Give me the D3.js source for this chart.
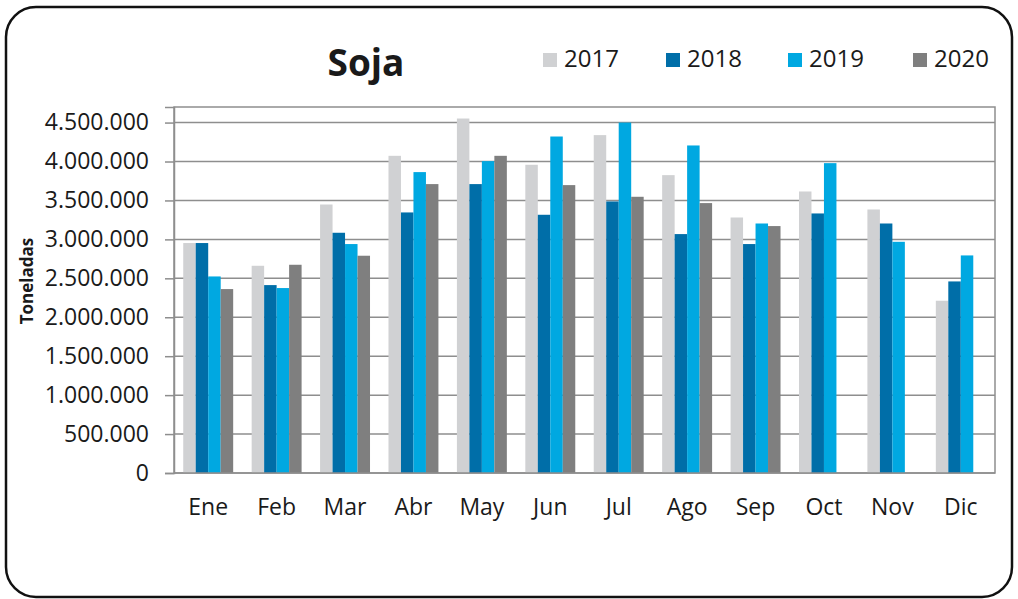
<!DOCTYPE html>
<html>
<head>
<meta charset="utf-8">
<script src="https://cdn.jsdelivr.net/npm/d3@7"></script>
<style>
  body { margin: 0; background: #fff; }
  text { font-family: "Open Sans", sans-serif; fill: #1a1a1a; }
</style>
</head>
<body>
<div id="chart"></div>
<script>
// data (toneladas)
const months = ['Ene', 'Feb', 'Mar', 'Abr', 'May', 'Jun', 'Jul', 'Ago', 'Sep', 'Oct', 'Nov', 'Dic'];
const years = ['2017', '2018', '2019', '2020'];
const v2017 = [2953000, 2661000, 3448000, 4073000, 4552000, 3958000, 4339000, 3825000, 3281000, 3615000, 3384000, 2212000];
const v2018 = [2953000, 2413000, 3085000, 3346000, 3710000, 3316000, 3487000, 3068000, 2940000, 3333000, 3204000, 2460000];
const v2019 = [2524000, 2375000, 2940000, 3864000, 4005000, 4321000, 4500000, 4206000, 3204000, 3979000, 2969000, 2794000];
const v2020 = [2362000, 2674000, 2790000, 3710000, 4073000, 3697000, 3547000, 3466000, 3171000, null, null, null];
const yTicks = [0, 500000, 1000000, 1500000, 2000000, 2500000, 3000000, 3500000, 4000000, 4500000];
const colors = ['#d0d1d3', '#006ea8', '#00a8e1', '#7f7f7f'];

const series = [v2017, v2018, v2019, v2020];

const W = 1018, H = 599;
const plot = { left: 174, right: 995, top: 107, bottom: 473 };

const svg = d3.select('#chart').append('svg')
    .attr('width', W)
    .attr('height', H);

// outer frame
svg.append('rect')
    .attr('x', 6).attr('y', 7)
    .attr('width', 1006).attr('height', 590)
    .attr('rx', 30).attr('ry', 30)
    .attr('fill', '#fff')
    .attr('stroke', '#111')
    .attr('stroke-width', 2.5);

const x0 = d3.scaleBand()
    .domain(months)
    .range([plot.left, plot.right])
    .paddingInner(0.27)
    .paddingOuter(0.135);

const x1 = d3.scaleBand()
    .domain(years)
    .range([0, x0.bandwidth()]);

const y = d3.scaleLinear()
    .domain([0, 4700000])
    .range([plot.bottom, plot.top]);

const fmt = d3.formatLocale({ decimal: ',', thousands: '.', grouping: [3], currency: ['', ''] }).format(',.0f');

// gridlines
svg.append('g')
    .selectAll('line')
    .data(yTicks.filter(d => d > 0))
    .enter()
    .append('line')
    .attr('x1', plot.left)
    .attr('x2', plot.right)
    .attr('y1', d => y(d))
    .attr('y2', d => y(d))
    .attr('stroke', '#8e8e8e')
    .attr('stroke-width', 1.5);

// plot border
svg.append('rect')
    .attr('x', plot.left).attr('y', plot.top)
    .attr('width', plot.right - plot.left)
    .attr('height', plot.bottom - plot.top)
    .attr('fill', 'none')
    .attr('stroke', '#8e8e8e')
    .attr('stroke-width', 1.5);

// bars
const groups = svg.append('g')
    .selectAll('g')
    .data(months)
    .enter()
    .append('g')
    .attr('transform', d => `translate(${x0(d)},0)`);

groups.selectAll('rect')
    .data((m, i) => years.map((yr, j) => ({ yr, j, v: series[j][i] })).filter(d => d.v != null))
    .enter()
    .append('rect')
    .attr('x', d => x1(d.yr))
    .attr('width', x1.bandwidth())
    .attr('y', d => y(d.v))
    .attr('height', d => y(0) - y(d.v))
    .attr('fill', d => colors[d.j]);

// y axis
const yAxis = svg.append('g')
    .attr('transform', `translate(${plot.left},0)`)
    .call(d3.axisLeft(y).tickValues(yTicks).tickFormat(fmt).tickSize(9).tickPadding(16));
yAxis.select('.domain').attr('stroke', '#8e8e8e').attr('stroke-width', 1.5);
yAxis.selectAll('.tick line').attr('stroke', '#8e8e8e').attr('stroke-width', 1.5);
yAxis.selectAll('.tick text')
    .style('font-family', '"Open Sans", sans-serif')
    .style('font-size', '23px')
    .attr('fill', '#1a1a1a');

// x axis labels
const xAxis = svg.append('g')
    .attr('transform', `translate(0,${plot.bottom})`)
    .call(d3.axisBottom(x0).tickSize(0).tickPadding(26));
xAxis.select('.domain').attr('stroke', '#8e8e8e').attr('stroke-width', 1.5)
    .attr('d', `M${plot.left},0H${plot.right}`);
xAxis.selectAll('.tick text')
    .style('font-family', '"Open Sans", sans-serif')
    .style('font-size', '23px')
    .attr('fill', '#1a1a1a');

// y axis title
svg.append('text')
    .attr('transform', 'translate(33,281) rotate(-90)')
    .attr('text-anchor', 'middle')
    .style('font-size', '17px')
    .style('font-weight', 'bold')
    .text('Toneladas');

// title
svg.append('text')
    .attr('x', 366)
    .attr('y', 76)
    .attr('text-anchor', 'middle')
    .style('font-size', '37px')
    .style('font-weight', 'bold')
    .text('Soja');

// legend
const legendX = [543, 666, 788, 913];
const legend = svg.append('g')
    .selectAll('g')
    .data(years)
    .enter()
    .append('g')
    .attr('transform', (d, i) => `translate(${legendX[i]},53)`);

legend.append('rect')
    .attr('width', 14)
    .attr('height', 14)
    .attr('fill', (d, i) => colors[i]);

legend.append('text')
    .attr('x', 21)
    .attr('y', 14)
    .style('font-size', '24px')
    .text(d => d);
</script>
</body>
</html>
